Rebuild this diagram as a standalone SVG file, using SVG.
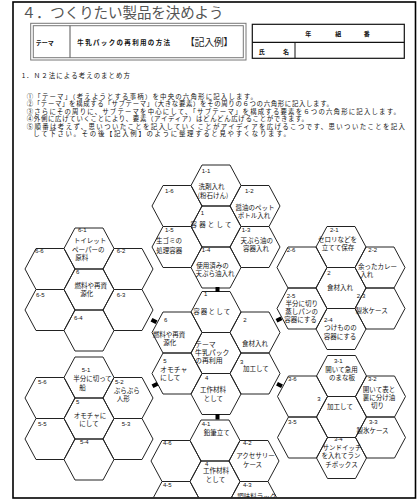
<svg xmlns="http://www.w3.org/2000/svg" width="418" height="501" viewBox="0 0 418 501">
<defs>
<style>
.hx{fill:none;stroke:#222;stroke-width:1}
.t{font-family:"Noto Sans CJK JP","Noto Sans CJK SC",sans-serif;font-size:6.5px;fill:#111;text-anchor:middle}
.ts{font-family:"Noto Sans CJK JP","Noto Sans CJK SC",sans-serif;font-size:6.9px;fill:#111}
.lb{font-family:"Liberation Sans",sans-serif;font-size:6px;fill:#111}
.ins{font-family:"Noto Sans CJK JP","Noto Sans CJK SC",sans-serif;font-size:6.4px;fill:#111}
.sm{font-family:"Noto Sans CJK JP","Noto Sans CJK SC",sans-serif;font-size:6px;fill:#111;font-weight:bold;text-anchor:middle}
.cn{stroke:#000;stroke-width:4;stroke-linecap:butt}
</style>
<polygon id="hx" class="hx" points="-25,0 -14,-20.5 14,-20.5 25,0 14,20.5 -14,20.5"/>
<clipPath id="pg"><rect x="0" y="0" width="418" height="497.5"/></clipPath>
</defs>
<rect x="0" y="0" width="418" height="501" fill="#fff"/>
<rect x="13" y="2" width="402.5" height="496" fill="none" stroke="#000" stroke-width="1.6"/>

<g id="header">
<text x="21.5" y="18" font-family="'Noto Sans CJK JP','Noto Sans CJK SC',sans-serif" font-size="14.5" fill="#555" textLength="202">４．つくりたい製品を決めよう</text>
<rect x="30.7" y="23.3" width="215.3" height="36.7" fill="none" stroke="#777" stroke-width="1"/>
<rect x="33.3" y="25.7" width="210" height="32" fill="none" stroke="#777" stroke-width="1"/>
<line x1="70" y1="25.7" x2="70" y2="57.7" stroke="#555" stroke-width="1"/>
<text x="44.7" y="44.5" class="sm">テーマ</text>
<text x="77.3" y="44.5" font-family="'Noto Sans CJK JP',sans-serif" font-size="6.5" font-weight="bold" fill="#111" textLength="92.7">牛乳パックの再利用の方法</text>
<text x="185" y="46" font-family="'Noto Sans CJK JP',sans-serif" font-size="10" fill="#222" textLength="48.3">【記入例】</text>
<rect x="252.3" y="24.3" width="152" height="34" fill="none" stroke="#111" stroke-width="1.2"/>
<line x1="252.3" y1="42.3" x2="404.3" y2="42.3" stroke="#111" stroke-width="1.2"/>
<line x1="295" y1="42.3" x2="295" y2="58.3" stroke="#111" stroke-width="1"/>
<text x="308.3" y="35.5" class="sm">年</text>
<text x="338.3" y="35.5" class="sm">組</text>
<text x="366.7" y="35.5" class="sm">番</text>
<text x="261.7" y="53.9" class="sm">氏</text>
<text x="286" y="53.9" class="sm">名</text>
</g>

<g id="instructions">
<text class="ins" x="21.7" y="78.2" textLength="108.3">1．Ｎ２法による考えのまとめ方</text>
<text class="ins" x="26.7" y="98.8" textLength="230.3">①「テーマ」（考えようとする事柄）を中央の六角形に記入します。</text>
<text class="ins" x="26.7" y="106.4" textLength="306.3">②「テーマ」を構成する「サブテーマ」（大きな要素）をその周りの６つの六角形に記入します。</text>
<text class="ins" x="26.7" y="113.9" textLength="373.3">③さらにその周りに、サブテーマを中心にして、「サブテーマ」を構成する要素を６つの六角形に記入します。</text>
<text class="ins" x="26.7" y="121.4" textLength="281.3">④外側に広げていくことにより、要素（アイディア）はどんどん広げることができます。</text>
<text class="ins" x="26.7" y="128.9" textLength="378.3">⑤順番は考えず、思いついたことを記入していくことがアイディアを広げるこつです、思いついたことを記入</text>
<text class="ins" x="33.3" y="136.4" textLength="256.7">して下さい。その後【記入例】のように整理すると見やすくなります。</text>
</g>

<g id="nodes" clip-path="url(#pg)">
<g id="n1-1"><use href="#hx" x="216" y="185.5"/><text class="lb" x="201.7" y="172.9">1-1</text><text class="t" x="211.5" y="188.7">洗剤入れ</text><text class="t" x="213" y="197.7">(粉石けん)</text></g>
<g id="n1-2"><use href="#hx" x="255" y="206"/><text class="lb" x="245" y="193.2">1-2</text><text class="t" x="255" y="210">醤油のペット</text><text class="t" x="254" y="218.2">ボトル入れ</text></g>
<g id="n1-3"><use href="#hx" x="255" y="247"/><text class="lb" x="241.7" y="231.5">1-3</text><text class="t" x="256.7" y="242.7">天ぷら油の</text><text class="t" x="256" y="251">容器入れ</text></g>
<g id="n1-4"><use href="#hx" x="216" y="267.5"/><text class="lb" x="201.7" y="252.2">1-4</text><text class="t" x="212.5" y="267.7">使用済みの</text><text class="t" x="215" y="276">天ぷら油入れ</text></g>
<g id="n1-5"><use href="#hx" x="177" y="247"/><text class="lb" x="165" y="231.5">1-5</text><text class="t" x="169" y="242.7">生ゴミの</text><text class="t" x="169.2" y="252.7">処理容器</text></g>
<g id="n1-6"><use href="#hx" x="177" y="206"/><text class="lb" x="165" y="193.2">1-6</text></g>
<g id="c1"><use href="#hx" x="216" y="226.5"/><text class="lb" x="200.7" y="214.9">1</text><text class="t" x="211" y="226.7" textLength="41">容器として</text></g>

<g id="theme"><use href="#hx" x="216" y="353"/><text class="ts" x="195" y="346.8">テーマ</text><text class="ts" x="195" y="355">牛乳パック</text><text class="ts" x="195" y="363.2">の再利用</text></g>
<g id="s1"><use href="#hx" x="216" y="312"/><text class="lb" x="204" y="295.5">1</text><text class="t" x="211.7" y="314.4" textLength="37">容器として</text></g>
<g id="s2"><use href="#hx" x="255" y="332.5"/><text class="lb" x="243.3" y="322.2">2</text><text class="t" x="255" y="346">食材入れ</text></g>
<g id="s3"><use href="#hx" x="255" y="373.5"/><text class="lb" x="240" y="363.9">3</text><text class="t" x="255.8" y="371">加工して</text></g>
<g id="s4"><use href="#hx" x="216" y="394"/><text class="lb" x="205" y="379.5">4</text><text class="t" x="213" y="392">工作材料</text><text class="t" x="213.3" y="401">として</text></g>
<g id="s5"><use href="#hx" x="177" y="373.5"/><text class="lb" x="163.3" y="362.9">5</text><text class="ts" x="160" y="372">オモチャ</text><text class="ts" x="160" y="380.4">にして</text></g>
<g id="s6"><use href="#hx" x="177" y="332.5"/><text class="lb" x="164" y="322.2">6</text><text class="t" x="169" y="337">燃料や再資</text><text class="t" x="169.7" y="345">源化</text></g>

<g id="n2-1"><use href="#hx" x="341" y="247"/><text class="lb" x="330" y="231.5">2-1</text><text class="t" x="337.5" y="242">セロリなどを</text><text class="t" x="338" y="250.4">立てて保存</text></g>
<g id="n2-2"><use href="#hx" x="380" y="267.5"/><text class="lb" x="368.3" y="252.2">2-2</text><text class="t" x="377.5" y="269.4">余ったカレー</text><text class="t" x="366.7" y="277.4">入れ</text></g>
<g id="n2-3"><use href="#hx" x="380" y="308.5"/><text class="lb" x="356.7" y="298.2">2-3</text><text class="t" x="371.7" y="313.4">製氷ケース</text></g>
<g id="n2-4"><use href="#hx" x="341" y="329"/><text class="lb" x="324" y="321.5">2-4</text><text class="t" x="340.5" y="330">つけものの</text><text class="t" x="340" y="338.7">容器にする</text></g>
<g id="n2-5"><use href="#hx" x="302" y="308.5"/><text class="lb" x="286.7" y="298.2">2-5</text><text class="t" x="301.7" y="305.8">半分に切り</text><text class="t" x="301.7" y="313.9">蒸しパンの</text><text class="t" x="300.5" y="322">容器にする</text></g>
<g id="n2-6"><use href="#hx" x="302" y="267.5"/><text class="lb" x="286.7" y="252.2">2-6</text></g>
<g id="c2"><use href="#hx" x="341" y="288"/><text class="lb" x="327.3" y="274.5">2</text><text class="t" x="340" y="290">食材入れ</text></g>

<g id="n3-1"><use href="#hx" x="341.5" y="376"/><text class="lb" x="334" y="362.9">3-1</text><text class="t" x="341.5" y="372">開いて急用</text><text class="t" x="342" y="380">のまな板</text></g>
<g id="n3-2"><use href="#hx" x="380.5" y="396.5"/><text class="lb" x="368" y="381.2">3-2</text><text class="t" x="379" y="392">開いて表と</text><text class="t" x="379" y="400">裏に分け油</text><text class="t" x="377.5" y="408.4">切り</text></g>
<g id="n3-3"><use href="#hx" x="380.5" y="437.5"/><text class="lb" x="369" y="423.9">3-3</text><text class="t" x="372.5" y="432.7">製氷ケース</text></g>
<g id="n3-4"><use href="#hx" x="341.5" y="458"/><text class="lb" x="334" y="441.2">3-4</text><text class="t" x="342" y="450">サンドイッチ</text><text class="t" x="341" y="458.4">を入れてラン</text><text class="t" x="341.5" y="467">チボックス</text></g>
<g id="n3-5"><use href="#hx" x="302.5" y="437.5"/><text class="lb" x="288" y="423.9">3-5</text></g>
<g id="n3-6"><use href="#hx" x="302.5" y="396.5"/><text class="lb" x="288" y="381.2">3-6</text></g>
<g id="c3"><use href="#hx" x="341.5" y="417"/><text class="lb" x="317.3" y="401.2">3</text><text class="t" x="340" y="408.7">加工して</text></g>

<g id="n4-1"><use href="#hx" x="215" y="440.5"/><text class="lb" x="201.7" y="426.2">4-1</text><text class="t" x="216.7" y="435.4">鉛筆立て</text></g>
<g id="n4-2"><use href="#hx" x="254" y="461"/><text class="lb" x="243" y="444.5">4-2</text><text class="t" x="255.5" y="457.7">アクセサリー</text><text class="t" x="252.5" y="466.7">ケース</text></g>
<g id="n4-3"><use href="#hx" x="254" y="502"/><text class="lb" x="243" y="487.2">4-3</text><text class="t" x="256.7" y="499.4">調味料ラック</text></g>
<g id="n4-5"><use href="#hx" x="176" y="502"/><text class="lb" x="163" y="487.2">4-5</text></g>
<g id="n4-6"><use href="#hx" x="176" y="461"/><text class="lb" x="163" y="444.5">4-6</text></g>
<g id="c4"><use href="#hx" x="215" y="481.5"/><text class="lb" x="205" y="465.5">4</text><text class="t" x="216" y="473.4">工作材料</text><text class="t" x="215.5" y="482">として</text></g>

<g id="n5-1"><use href="#hx" x="89" y="377.5"/><text class="lb" x="81.7" y="372.2">5-1</text><text class="t" x="92.5" y="381.4">半分に切って</text><text class="t" x="82.5" y="389.6">船</text></g>
<g id="n5-2"><use href="#hx" x="128" y="398"/><text class="lb" x="115" y="383.9">5-2</text><text class="t" x="126.7" y="393.4">ぶらぶら</text><text class="t" x="123.3" y="401.4">人形</text></g>
<g id="n5-3"><use href="#hx" x="128" y="439"/><text class="lb" x="121.7" y="426.2">5-3</text></g>
<g id="n5-4"><use href="#hx" x="89" y="459.5"/><text class="lb" x="80" y="443.9">5-4</text></g>
<g id="n5-5"><use href="#hx" x="50" y="439"/><text class="lb" x="38" y="426.2">5-5</text></g>
<g id="n5-6"><use href="#hx" x="50" y="398"/><text class="lb" x="38" y="383.9">5-6</text></g>
<g id="c5"><use href="#hx" x="89" y="418.5"/><text class="lb" x="76" y="403.9">5</text><text class="t" x="90" y="417.7">オモチャに</text><text class="t" x="89" y="426">にして</text></g>

<g id="n6-1"><use href="#hx" x="89" y="248.5"/><text class="lb" x="78" y="231.5">6-1</text><text class="t" x="90" y="242.7">トイレット</text><text class="t" x="88.3" y="252">ペーパーの</text><text class="t" x="81.7" y="260.4">原料</text></g>
<g id="n6-2"><use href="#hx" x="128" y="269"/><text class="lb" x="116.7" y="252.9">6-2</text></g>
<g id="n6-3"><use href="#hx" x="128" y="310"/><text class="lb" x="116.7" y="297.2">6-3</text></g>
<g id="n6-4"><use href="#hx" x="89" y="330.5"/><text class="lb" x="74" y="319.5">6-4</text></g>
<g id="n6-5"><use href="#hx" x="50" y="310"/><text class="lb" x="36" y="297.2">6-5</text></g>
<g id="n6-6"><use href="#hx" x="50" y="269"/><text class="lb" x="35" y="252.9">6-6</text></g>
<g id="c6"><use href="#hx" x="89" y="289.5"/><text class="lb" x="76" y="273.9">6</text><text class="t" x="90.8" y="287.7">燃料や再資</text><text class="t" x="86.7" y="296">源化</text></g>
</g>

<g id="connectors">
<line class="cn" x1="217.5" y1="287" x2="217.5" y2="292"/>
<line class="cn" x1="276.5" y1="320.8" x2="281.5" y2="318.2"/>
<line class="cn" x1="277" y1="383.7" x2="282" y2="386.3"/>
<line class="cn" x1="217.5" y1="414" x2="217.5" y2="419.5"/>
<line class="cn" x1="157.5" y1="383.7" x2="152.5" y2="386.3"/>
<line class="cn" x1="156.5" y1="322.3" x2="151.5" y2="319.7"/>
</g>
</svg>
